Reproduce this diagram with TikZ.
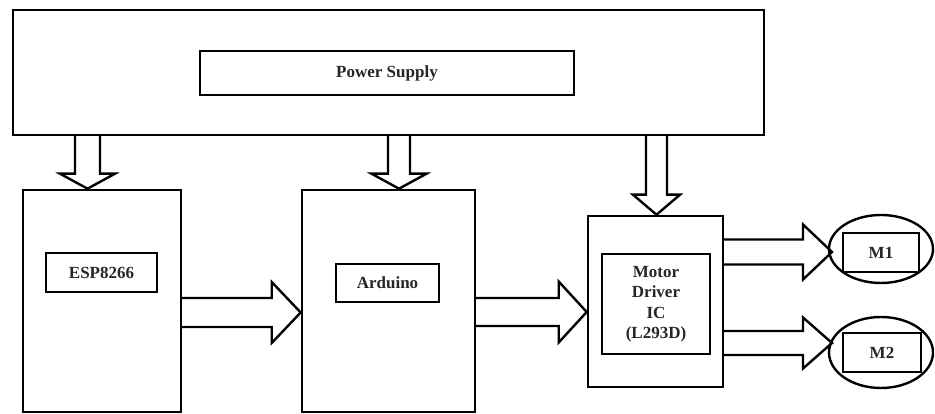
\documentclass[tikz,border=0pt]{standalone}
\usepackage{fontspec}
\setmainfont{Liberation Serif}
\usetikzlibrary{calc,shapes.geometric}
\tikzset{
  box/.style={draw, line width=2.6pt, rectangle, inner sep=0pt, anchor=center},
  lbl/.style={font=\bfseries\fontsize{17}{20.5}\selectfont, text=black!85, align=center},
  arr/.style={draw, line width=2.4pt, line join=miter},
  motor/.style={draw, line width=2.4pt, ellipse, inner sep=0pt, anchor=center}
}
\newcommand{\harrow}[5]{%
  \draw[arr] ($(#1)+(0,-#3)$) -- ($(#2)+(-#5,-#3)$) -- ($(#2)+(-#5,-#4)$) -- (#2)
    -- ($(#2)+(-#5,#4)$) -- ($(#2)+(-#5,#3)$) -- ($(#1)+(0,#3)$);}
\newcommand{\varrow}[5]{%
  \draw[arr] ($(#1)+(-#3,0)$) -- ($(#2)+(-#3,-#5)$) -- ($(#2)+(-#4,-#5)$) -- (#2)
    -- ($(#2)+(#4,-#5)$) -- ($(#2)+(#3,-#5)$) -- ($(#1)+(#3,0)$);}
\begin{document}
\begin{tikzpicture}[x=1pt,y=-1pt]
\useasboundingbox (0,0) rectangle (935,414);
\fill[white] (0,0) rectangle (935,414);
% power supply
\node[box, minimum width=751pt, minimum height=125pt] (ps) at (388.5,72.5) {};
\node[box, minimum width=374pt, minimum height=44pt] (psin) at (387,73) {};
\node[lbl] (pst) at (psin.center) {Power Supply};
% ESP8266
\node[box, minimum width=158pt, minimum height=222pt] (esp) at (102,301) {};
\node[box, minimum width=111pt, minimum height=39pt] (espin) at (101.5,272.5) {};
\node[lbl] (espt) at (espin.center) {ESP8266};
% Arduino
\node[box, minimum width=173pt, minimum height=222pt] (ard) at (388.5,301) {};
\node[box, minimum width=103pt, minimum height=38pt] (ardin) at (387.5,283) {};
\node[lbl] (ardt) at (ardin.center) {Arduino};
% Motor driver
\node[box, minimum width=135pt, minimum height=171pt] (md) at (655.5,301.5) {};
\node[box, minimum width=108pt, minimum height=100pt] (mdin) at (656,304) {};
\node[lbl] (mdt) at (mdin.center) {Motor\\Driver\\IC\\(L293D)};
% Motors
\node[motor, minimum width=104pt, minimum height=68pt] (m1e) at (881,249) {};
\node[box, line width=2.4pt, minimum width=76pt, minimum height=39pt] (m1) at (881,252.5) {};
\node[lbl] (m1t) at (m1.center) {M1};
\node[motor, minimum width=104pt, minimum height=71pt] (m2e) at (881,352.5) {};
\node[box, line width=2.4pt, minimum width=78pt, minimum height=39pt] (m2) at (882,352.5) {};
\node[lbl] (m2t) at (m2.center) {M2};
% power arrows
\coordinate (p1) at (87.5,135);
\coordinate (p2) at (399,135);
\coordinate (p3) at (656.5,135);
\varrow{p1}{p1 |- esp.north}{12.5}{27.5}{15}
\varrow{p2}{p2 |- ard.north}{11}{27.5}{15}
\varrow{p3}{p3 |- md.north}{10.5}{23.5}{20}
% horizontal arrows
\coordinate (h1) at (181,312.5);
\coordinate (h2) at (475,312);
\coordinate (h3) at (723,252);
\coordinate (h4) at (723,343);
\harrow{h1}{h1 -| ard.west}{14.5}{30.5}{29}
\harrow{h2}{h2 -| md.west}{14}{30.5}{28}
\coordinate (t3) at (832,252);
\coordinate (t4) at (832,343);
\harrow{h3}{t3}{12.5}{27.5}{29}
\harrow{h4}{t4}{12}{25.5}{29}
\end{tikzpicture}
\end{document}
